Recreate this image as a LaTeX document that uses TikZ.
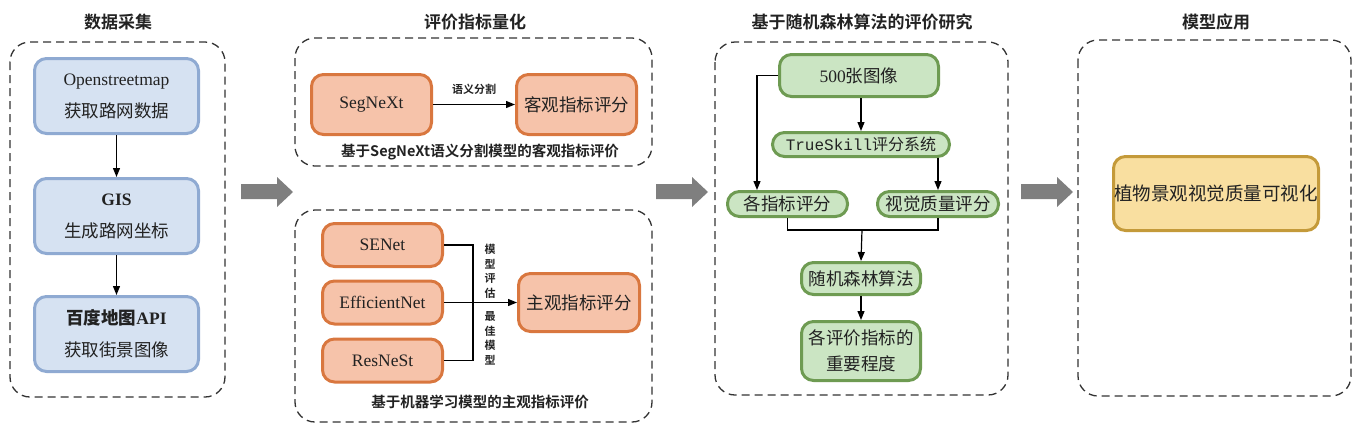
\documentclass[tikz,border=0pt]{standalone}
\usepackage{fontspec}
\setmainfont{Liberation Serif}
\setmonofont{Liberation Mono}
\newfontfamily\cjk{Noto Sans CJK SC}
\newfontfamily\cjkb{Noto Sans CJK SC Bold}
\usetikzlibrary{arrows.meta}
\definecolor{bfill}{HTML}{D6E2F2}
\definecolor{bline}{HTML}{8FAAD2}
\definecolor{ofill}{HTML}{F6C3AA}
\definecolor{oline}{HTML}{D9773F}
\definecolor{gfill}{HTML}{CBE5C3}
\definecolor{gline}{HTML}{6E9B52}
\definecolor{yfill}{HTML}{F9DFA0}
\definecolor{yline}{HTML}{C49A3A}
\definecolor{garrow}{HTML}{7F7F7F}
\definecolor{txt}{HTML}{222222}
\tikzset{
  panel/.style={draw=black!80, line width=1.3pt, dash pattern=on 8pt off 5pt, rounded corners=20pt},
  ttl/.style={font=\cjkb\fontsize{17}{20}\selectfont, text=txt, inner sep=0pt},
  capt/.style={font=\cjkb\fontsize{14.5}{18}\selectfont, text=txt, inner sep=0pt},
  lbl/.style={font=\cjkb\fontsize{11}{14.5}\selectfont, text=txt, inner sep=0pt, align=center},
  basebox/.style={rounded corners=12pt, line width=3pt, align=center, inner sep=0pt,
    font=\fontsize{17.5}{32}\selectfont, text=txt},
  bluebox/.style={basebox, fill=bfill, draw=bline},
  orangebox/.style={basebox, fill=ofill, draw=oline},
  greenbox/.style={basebox, fill=gfill, draw=gline},
  yellowbox/.style={basebox, fill=yfill, draw=yline},
  conn/.style={line width=1.2pt, draw=black},
  arr/.style={conn, -{Triangle[length=9pt,width=7pt]}},
  blockarrow/.style={fill=garrow, draw=none}
}
\begin{document}
\begin{tikzpicture}[x=1pt,y=-1pt]
\useasboundingbox (0,0) rectangle (1353,429);

% ---------- Panel 1 ----------
\node[ttl] (t1) at (118,22) {数据采集};
\draw[panel] (10,42) rectangle (225,397);
\node[bluebox, minimum width=164pt, minimum height=75pt] (b1) at (116.5,96)
  {Openstreetmap\\{\cjk 获取路网数据}};
\node[bluebox, minimum width=164pt, minimum height=75pt] (b2) at (116.5,216)
  {\textbf{GIS}\\{\cjk 生成路网坐标}};
\node[bluebox, minimum width=164pt, minimum height=75pt] (b3) at (116.5,334)
  {\textbf{{\cjkb 百度地图}API}\\{\cjk 获取街景图像}};
\draw[arr] (b1) -- (b2);
\draw[arr] (b2) -- (b3);

% ---------- Panel 2 top ----------
\node[ttl] (t2) at (475,22) {评价指标量化};
\draw[panel] (295,38) rectangle (652,166);
\node[orangebox, minimum width=120pt, minimum height=60pt] (seg) at (371.5,104.5) {SegNeXt};
\node[orangebox, minimum width=120pt, minimum height=60pt] (obj) at (576.5,104.5) {\cjk 客观指标评分};
\draw[arr] (seg) -- node[lbl, above=9pt] (l1) {语义分割} (obj);
\node[capt] (c1) at (480,152) {基于SegNeXt语义分割模型的客观指标评价};

% ---------- Panel 2 bottom ----------
\draw[panel] (295,210) rectangle (652,422);
\node[orangebox, minimum width=120pt, minimum height=43pt] (se) at (382.5,245) {SENet};
\node[orangebox, minimum width=120pt, minimum height=43pt] (ef) at (382.5,302.5) {EfficientNet};
\node[orangebox, minimum width=120pt, minimum height=43pt] (rs) at (382.5,360.5) {ResNeSt};
\node[orangebox, minimum width=121pt, minimum height=58pt] (subj) at (579,302.5) {\cjk 主观指标评分};
\coordinate (jn) at (473,302.5);
\draw[conn] (se.east) -| (jn);
\draw[conn] (rs.east) -| (jn);
\draw[arr] (ef.east) -- (subj.west);
\node[lbl] (l2) at (490,271.5) {模\\型\\评\\估};
\node[lbl] (l3) at (490,338.5) {最\\佳\\模\\型};
\node[capt] (c2) at (480,402) {基于机器学习模型的主观指标评价};

% ---------- Panel 3 ----------
\node[ttl] (t3) at (862,22) {基于随机森林算法的评价研究};
\draw[panel] (715,42) rectangle (1008,395);
\node[greenbox, minimum width=159pt, minimum height=42pt] (img) at (859,75.5) {500{\cjk 张图像}};
\node[greenbox, minimum width=177pt, minimum height=24pt, font=\fontsize{16}{20}\selectfont] (ts) at (861,144.5)
  {{\ttfamily TrueSkill}{\cjk 评分系统}};
\node[greenbox, minimum width=120pt, minimum height=25pt] (ge) at (787.5,204) {\cjk 各指标评分};
\node[greenbox, minimum width=121pt, minimum height=25pt] (sj) at (938,204) {\cjk 视觉质量评分};
\node[greenbox, minimum width=119pt, minimum height=32pt] (rf) at (861,278.5) {\cjk 随机森林算法};
\node[greenbox, minimum width=119pt, minimum height=59pt, font=\cjk\fontsize{17.5}{26}\selectfont] (imp) at (861,351)
  {各评价指标的\\重要程度};
\draw[arr] (img.south -| ts.north) -- (ts.north);
\coordinate (lc) at (757,75.5);
\draw[arr] (img.west) -- (lc) -- (lc |- ge.north);
\draw[arr] (ts.south -| sj.north) -- (sj.north);
\coordinate (mg) at (862,230);
\draw[conn] (ge.south) |- (mg);
\draw[conn] (sj.south) |- (mg);
\draw[arr] (mg) -- (rf.north);
\draw[arr] (rf) -- (imp);

% ---------- Panel 4 ----------
\node[ttl] (t4) at (1216,22) {模型应用};
\draw[panel] (1078,40) rectangle (1351,396);
\node[yellowbox, minimum width=205pt, minimum height=74pt, font=\cjk\fontsize{18.5}{22}\selectfont] (vis) at (1216,193.5)
  {植物景观视觉质量可视化};

% ---------- Gray block arrows ----------
\foreach \x in {241,656,1021}{
  \fill[blockarrow] (\x,184) -- (\x+36,184) -- (\x+36,177) -- (\x+52,192) -- (\x+36,207) -- (\x+36,199) -- (\x,199) -- cycle;
}
\end{tikzpicture}
\end{document}
